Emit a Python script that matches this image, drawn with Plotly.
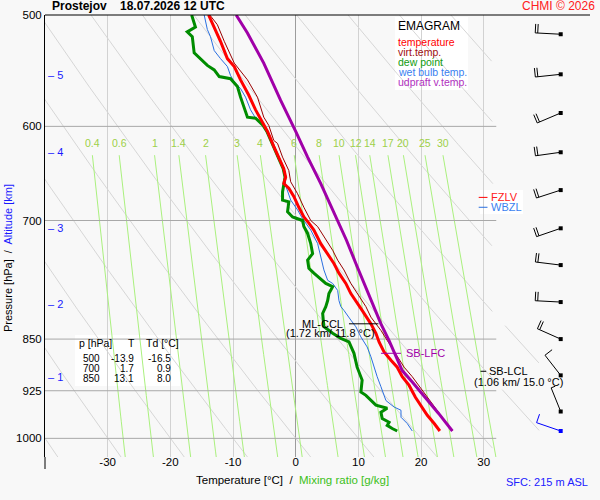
import numpy as np
import plotly.graph_objects as go

FONT = "Liberation Sans, Arial, sans-serif"
P_TOP, P_BOT = 500.0, 1031.0

# teplota [hPa, °C]
t_p = [500, 510, 522, 537, 544, 556, 570, 584, 599, 605, 620, 631, 643, 652, 659, 664, 673, 685, 696, 703,
       711, 727, 739, 751, 763, 776, 789, 802, 811, 829, 842, 854, 868, 880, 890, 904, 917, 935, 950, 963,
       976, 988]
t_val = [-13.9, -13.0, -12.0, -10.9, -9.8, -8.8, -7.5, -6.4, -5.1, -4.5, -3.5, -2.7, -1.9, -1.6, -1.9, -1.1,
         -0.3, 0.5, 1.3, 2.1, 2.9, 4.0, 5.1, 6.1, 6.9, 8.0, 8.8, 9.8, 10.6, 12.0, 12.8, 13.3, 14.1, 15.2,
         16.2, 17.0, 18.1, 19.1, 20.2, 21.0, 22.1, 23.0]

# virtualni teplota
tv_p = [500, 508, 522, 541, 556, 572, 591, 599, 614, 617, 631, 645, 657, 670, 685, 700, 707, 719, 735, 747,
        759, 776, 789, 806, 820, 838, 856, 875, 890, 904, 924, 945, 963, 984, 988]
tv_val = [-13.7, -12.5, -11.4, -9.8, -7.7, -6.1, -5.1, -4.3, -3.5, -2.9, -2.1, -1.1, -0.8, 0.3, 1.3, 2.4,
          3.5, 4.5, 5.9, 6.7, 7.7, 8.8, 9.8, 11.2, 12.0, 13.6, 14.9, 16.2, 17.3, 18.6, 20.2, 21.8, 23.1,
          24.7, 25.0]

# rosny bod
td_p = [500, 510, 514, 518, 532, 537, 543, 547, 553, 555, 562, 572, 581, 591, 592, 599, 605, 620, 631, 643,
        652, 659, 668, 677, 679, 690, 696, 698, 700, 707, 715, 727, 739, 747, 757, 763, 770, 776, 780, 789,
        798, 806, 815, 833, 842, 849, 854, 870, 890, 909, 927, 932, 947, 952, 958, 968, 974, 979, 984, 988]
td_val = [-16.6, -16.0, -17.3, -16.5, -16.2, -15.2, -14.1, -13.0, -12.2, -10.4, -9.3, -8.8, -8.3, -7.7,
          -6.4, -5.2, -4.6, -3.6, -2.8, -2.0, -1.7, -1.9, -2.1, -2.1, -1.1, -1.3, -0.5, 0.3, 1.1, 1.3, 1.9,
          2.4, 2.7, 1.9, 2.1, 2.9, 4.0, 4.8, 5.9, 5.3, 5.1, 4.8, 4.3, 4.5, 5.9, 7.2, 8.5, 9.3, 9.8, 10.6,
          10.4, 11.2, 12.8, 14.6, 13.6, 13.8, 14.9, 14.6, 15.4, 16.2]

# vlhky teplomer
tw_p = [500, 504, 512, 518, 530, 537, 544, 552, 558, 564, 572, 584, 592, 599, 605, 620, 631, 643, 652, 661,
        677, 688, 698, 711, 727, 743, 759, 772, 776, 785, 798, 806, 811, 824, 833, 847, 861, 875, 890, 904,
        919, 940, 950, 955, 966, 976, 988]
tw_val = [-14.6, -14.4, -14.1, -13.6, -13.0, -12.0, -10.9, -10.4, -9.8, -8.8, -8.0, -7.2, -6.4, -5.2, -4.6,
          -3.6, -2.8, -2.0, -1.7, -1.6, -0.8, 0.3, 1.1, 2.4, 3.5, 4.0, 4.5, 5.1, 5.9, 6.7, 6.9, 7.2, 7.7,
          8.8, 9.6, 10.4, 11.4, 12.0, 12.5, 13.0, 13.6, 14.4, 15.7, 16.8, 16.8, 17.8, 18.6]

# virtualni teplota vystupujici castice
tu_p = [500, 515, 541, 575, 605, 631, 659, 685, 700, 723, 751, 776, 806, 829, 852, 873, 895, 912, 935, 960, 988]
tu_val = [-9.5, -7.7, -5.1, -2.4, 0.0, 1.9, 4.0, 5.7, 6.6, 8.1, 9.6, 10.9, 12.5, 13.6, 14.9, 16.0, 17.0,
          18.6, 20.7, 22.8, 25.0]

# vitr
barb_p = [516, 551, 587, 626, 666, 709, 753, 800, 850, 902, 957, 988]
barb_dir = [273, 264, 247, 262, 252, 251, 277, 273, 294, 322, 338, 289]
barb_kt = [20, 20, 20, 20, 20, 20, 20, 20, 20, 10, 5, 10]

# vyska
alt_km = [1, 2, 3, 4, 5]
alt_p = [904, 802, 709, 626, 552]

# tabulka
tab_p = [500, 700, 850]
tab_t = [-13.9, 1.7, 13.1]
tab_td = [-16.5, 0.9, 8.0]

grid_p = [600, 700, 850, 925, 1000]
mix_w = [0.4, 0.6, 1, 1.4, 2, 3, 4, 6, 8, 10, 12, 14, 17, 20, 25, 30]
theta_c = list(range(-40, 100, 10))
t_ticks = [-30, -20, -10, 0, 10, 20, 30]

# hladiny
ccl_p, lfc_p, lcl_p = 829, 870, 896
fzlv_p, wbzl_p = 674, 685


def lp(p):
    return np.log10(p)


# pixel -> paper (kreslici plocha 45..590 x 15..457)
def xpap(px):
    return (px - 45) / 545.0


def ypap(py):
    return (457 - py) / 442.0


def line(x, y, color, width=1, xa="x", ya="y"):
    return go.Scatter(x=x, y=y, mode="lines", line=dict(color=color, width=width),
                      hoverinfo="skip", xaxis=xa, yaxis=ya)


fig = go.Figure()
pp = np.geomspace(P_TOP, P_BOT, 250)

# suche adiabaty
for th in theta_c:
    t = (th + 273.15) * (pp / 1000.0) ** 0.2857 - 273.15
    keep = (t <= 31.5) | ((pp >= 830) & (t >= 32.8) & (t <= 39))
    fig.add_trace(line(np.where(keep, t, np.nan), pp, "#d6d6d6"))

# cary smesovaciho pomeru
pm = np.geomspace(629, P_BOT, 60)
for w in mix_w:
    a = np.log(w * pm / (622.0 + w) / 6.112)
    fig.add_trace(line(243.5 * a / (17.67 - a), pm, "#aaf07e"))
    fig.add_annotation(x=243.5 * a[0] / (17.67 - a[0]), y=lp(617), text=f"{w:g}", showarrow=False,
                       yanchor="middle", font=dict(size=10.5, color="#9dd048"))

for p in grid_p:
    fig.add_trace(line([-40, 32], [p, p], "#a8a8a8"))

# profily
fig.add_trace(line(tw_val, tw_p, "#2a6fe0", 1))
fig.add_trace(line(tv_val, tv_p, "#990000", 1))
fig.add_trace(line(td_val, td_p, "#008c00", 3))
fig.add_trace(line(t_val, t_p, "#ff0000", 3))
fig.add_trace(line(tu_val, tu_p, "#a000a8", 3))

# znacky hladin
fig.add_trace(line([8.5, 13.2], [ccl_p, ccl_p], "black"))
fig.add_trace(line([13.6, 16.8], [lfc_p, lfc_p], "#a000a8"))
fig.add_trace(line([29.5, 30.4], [lcl_p, lcl_p], "black"))
fig.add_trace(line([29.2, 30.6], [fzlv_p, fzlv_p], "#ff0000"))
fig.add_trace(line([29.2, 30.6], [wbzl_p, wbzl_p], "#2a6fe0"))

# vitr - prapory v pixelech
H = 442.0
STN_X, STAFF = 64.7, 25.5


def barb(p, d, kt):
    y0 = H * np.log(p / P_TOP) / np.log(P_BOT / P_TOP)
    ux, uy = np.sin(np.radians(d)), -np.cos(np.radians(d))
    bx, by = -uy, ux
    xe, ye = STN_X + STAFF * ux, y0 + STAFF * uy
    xs, ys = [STN_X, xe, None], [y0, ye, None]
    n_long, rest = divmod(kt, 10)
    pos = 0.0
    for i in range(n_long):
        cx, cy = xe - pos * ux, ye - pos * uy
        xs += [cx, cx + 9 * bx, None]
        ys += [cy, cy + 9 * by, None]
        pos += 2.5
    if rest >= 5:
        cx, cy = xe - pos * ux, ye - pos * uy
        xs += [cx, cx + 4.5 * bx, None]
        ys += [cy, cy + 4.5 * by, None]
    return xs, ys, y0


for i in range(len(barb_p)):
    col = "#0000ff" if i == len(barb_p) - 1 else "black"
    bxs, bys, y0 = barb(barb_p[i], barb_dir[i], barb_kt[i])
    fig.add_trace(line(bxs, bys, col, 1, "x2", "y2"))
    fig.add_trace(go.Scatter(x=[STN_X], y=[y0], mode="markers", xaxis="x2", yaxis="y2", hoverinfo="skip",
                             marker=dict(symbol="square", size=4, color=col)))

# bile boxy
for x0, y0, x1, y1 in [(395, 17, 468, 90), (75, 335, 180, 386), (480, 190, 523, 214)]:
    fig.add_shape(type="rect", xref="paper", yref="paper", x0=xpap(x0), x1=xpap(x1), y0=ypap(y1),
                  y1=ypap(y0), fillcolor="white", line_width=0, layer="below")
fig.add_shape(type="line", xref="paper", yref="paper", x0=0, x1=1, y0=1, y1=1, line=dict(color="black", width=1))
fig.add_shape(type="line", xref="paper", yref="paper", x0=0, x1=0, y0=0, y1=ypap(469),
              line=dict(color="black", width=1))


def txt(x, y, s, size=11, color="black", xa="left", xr="paper", yr="paper", **kw):
    fig.add_annotation(x=x, y=y, xref=xr, yref=yr, text=s, showarrow=False, xanchor=xa, yanchor="middle",
                       font=dict(size=size, color=color, family=FONT), **kw)


# legenda
txt(xpap(396), ypap(26), "EMAGRAM", 12)
leg = [("temperature", "#ff0000"), ("virt.temp.", "#a01010"), ("dew point", "#109c10"),
       ("wet bulb temp.", "#3a7ff0"), ("udpraft v.temp.", "#b030c0")]
for k, (s, c) in enumerate(leg):
    txt(xpap(396), ypap(42 + 10 * k), s, 10.5, c)

# tabulka
txt(xpap(77), ypap(343), "p [hPa]", 10.5)
txt(xpap(131), ypap(343), "T", 10.5, xa="center")
txt(xpap(144), ypap(343), "Td [°C]", 10.5)
for k in range(len(tab_p)):
    yy = ypap(358 + 10.3 * k)
    txt(xpap(102), yy, str(tab_p[k]), 10, xa="right")
    txt(xpap(136), yy, f"{tab_t[k]:.1f}", 10, xa="right")
    txt(xpap(173), yy, f"{tab_td[k]:.1f}", 10, xa="right")

# popisky hladin
txt(4.3, lp(ccl_p), "ML-CCL", 11, xa="center", xr="x", yr="y")
txt(5.5, lp(842), "(1.72 km/ 11.8 °C)", 11, xa="center", xr="x", yr="y")
txt(17.3, lp(lfc_p), "SB-LFC", 11, "#a000a8", xr="x", yr="y")
txt(30.5, lp(lcl_p), "SB-LCL", 11, xr="x", yr="y")
txt(35.6, lp(912), "(1.06 km/ 15.0 °C)", 11, xa="center", xr="x", yr="y")
txt(30.8, lp(fzlv_p), "FZLV", 11, "#ff2020", xr="x", yr="y")
txt(30.8, lp(wbzl_p), "WBZL", 11, "#3a7ff0", xr="x", yr="y")

for k in range(len(alt_km)):
    txt(xpap(46), lp(alt_p[k]), f"– {alt_km[k]}", 11, "#1a1aff", yr="y")

# nadpisy
txt(xpap(50), ypap(6), "<b>Prostejov    18.07.2026 12 UTC</b>", 12)
txt(xpap(597), ypap(6), "CHMI © 2026", 12, "#ff2020", xa="right")
txt(1, ypap(482), "SFC: 215 m ASL", 11, "#2020ff", xa="right")
txt(xpap(292), ypap(480), "Temperature [°C]  /  <span style='color:#3cc01a'>Mixing ratio [g/kg]</span>",
    11.5, xa="center")
txt(xpap(8), ypap(258), "Pressure [hPa]  /  <span style='color:#1a1aff'>Altitude [km]</span>", 11,
    xa="center", textangle=-90)

fig.update_layout(
    width=600, height=500,
    margin=dict(l=45, r=10, t=15, b=43),
    paper_bgcolor="#f8f8f8", plot_bgcolor="rgba(0,0,0,0)",
    showlegend=False,
    font=dict(family=FONT, size=11, color="black"),
    xaxis=dict(domain=[0, 0.92], range=[-40, 40], tickvals=t_ticks, ticktext=[str(v) for v in t_ticks],
               showgrid=True, gridcolor="#d2d2d2", gridwidth=1, zeroline=True, zerolinecolor="#9c9c9c",
               zerolinewidth=1, ticks="", showline=False, tickfont=dict(size=11.5), ticklabelstandoff=-4,
               automargin=False),
    yaxis=dict(type="log", range=[lp(P_BOT), lp(P_TOP)], tickvals=[500] + grid_p,
               ticktext=[str(v) for v in [500] + grid_p], showgrid=False, zeroline=False, showline=True,
               linecolor="black", linewidth=1, ticks="", tickfont=dict(size=11.5), automargin=False),
    xaxis2=dict(domain=[xpap(496), 1], range=[0, 94], visible=False, anchor="y2", automargin=False),
    yaxis2=dict(domain=[0, 1], range=[H, 0], visible=False, anchor="x2", automargin=False),
)

# stranka bez okraje, aby obrazek sedel do okna 600x500
fig.write_html("out.html", config={"displayModeBar": False},
               post_script="document.body.style.margin='0px';")
